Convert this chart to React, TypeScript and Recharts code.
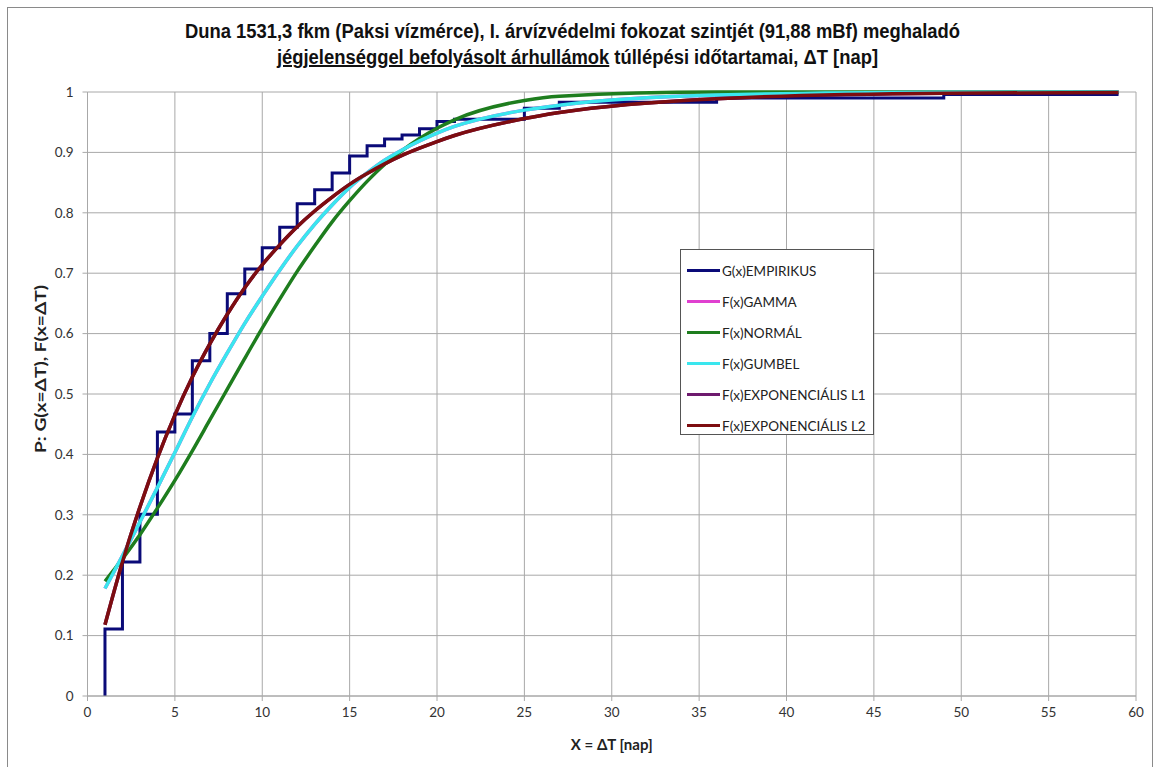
import { LineChart, Line, XAxis, YAxis, CartesianGrid } from 'recharts'

// x positions where the fitted curves were evaluated
const curveX = [1, 2, 3, 4, 5, 6, 7, 8, 9, 10, 11, 12, 13, 14, 15, 16, 17, 18, 19, 20, 21, 25, 27, 36, 49, 59]

const normalY = [0.19, 0.227, 0.267, 0.311, 0.357, 0.406, 0.457, 0.508, 0.559, 0.609, 0.657, 0.703, 0.745, 0.785, 0.82, 0.852, 0.88, 0.903, 0.923, 0.94, 0.954, 0.986, 0.993, 0.9998, 1, 1]
const gumbelY = [0.178, 0.232, 0.288, 0.345, 0.403, 0.462, 0.517, 0.568, 0.617, 0.662, 0.705, 0.745, 0.781, 0.813, 0.842, 0.866, 0.887, 0.904, 0.919, 0.932, 0.943, 0.97, 0.978, 0.995, 0.9995, 1]
const gammaY = [0.178, 0.232, 0.288, 0.345, 0.403, 0.462, 0.517, 0.568, 0.617, 0.662, 0.705, 0.745, 0.781, 0.813, 0.842, 0.866, 0.887, 0.904, 0.919, 0.932, 0.943, 0.97, 0.978, 0.995, 0.9995, 1]
const expL1Y = [0.118, 0.222, 0.313, 0.394, 0.465, 0.528, 0.583, 0.632, 0.676, 0.714, 0.747, 0.777, 0.803, 0.826, 0.847, 0.865, 0.881, 0.895, 0.907, 0.918, 0.928, 0.956, 0.966, 0.989, 0.998, 0.9993]
const expL2Y = [0.118, 0.222, 0.313, 0.394, 0.465, 0.528, 0.583, 0.632, 0.676, 0.714, 0.747, 0.777, 0.803, 0.826, 0.847, 0.865, 0.881, 0.895, 0.907, 0.918, 0.928, 0.956, 0.966, 0.989, 0.998, 0.9993]

// empirical step function
const stepX = [1, 1, 2, 3, 4, 5, 6, 7, 8, 9, 10, 11, 12, 13, 14, 15, 16, 17, 18, 19, 20, 21, 25, 27, 36, 49, 59]
const stepY = [0, 0.111, 0.222, 0.301, 0.437, 0.467, 0.555, 0.6, 0.666, 0.707, 0.742, 0.776, 0.815, 0.838, 0.866, 0.894, 0.911, 0.922, 0.929, 0.939, 0.951, 0.955, 0.973, 0.983, 0.99, 0.996, 0.996]

const xTicks = [0, 5, 10, 15, 20, 25, 30, 35, 40, 45, 50, 55, 60]
const yTicks = [0, 0.1, 0.2, 0.3, 0.4, 0.5, 0.6, 0.7, 0.8, 0.9, 1]

const legendNames = ['G(x)EMPIRIKUS', 'F(x)GAMMA', 'F(x)NORMÁL', 'F(x)GUMBEL', 'F(x)EXPONENCIÁLIS L1', 'F(x)EXPONENCIÁLIS L2']
const legendColors = ['#0a0a78', '#e040d0', '#1e7d1e', '#3ae6ee', '#6e1a6e', '#7d0d10']

const toPoints = (xs: number[], ys: number[]) => xs.map((x, i) => ({ x, y: ys[i] }))

const FONT = 'Lato, "Open Sans", sans-serif'
const GRID = '#a8a8a8'

function LegendBox() {
  return (
    <div style={{ position: 'absolute', left: 680, top: 249, border: '1px solid #555', background: '#fff', width: 194, height: 186, boxSizing: 'border-box', paddingTop: 5 }}>
      {legendNames.map((name, i) => (
        <div key={name} style={{ display: 'flex', alignItems: 'center', height: 31, fontFamily: FONT, fontSize: 13.5, color: '#222' }}>
          <div style={{ width: 33, height: 3.5, background: legendColors[i], marginLeft: 6, marginRight: 2 }} />
          <span>{name}</span>
        </div>
      ))}
    </div>
  )
}

const titleLine = {
  transform: 'scaleX(0.92)', transformOrigin: '50% 50%', whiteSpace: 'nowrap' as const
}

export default function App() {
  const series = [
    { key: 'gamma', color: legendColors[1], data: toPoints(curveX, gammaY), type: 'monotone' },
    { key: 'l1', color: legendColors[4], data: toPoints(curveX, expL1Y), type: 'monotone' },
    { key: 'emp', color: legendColors[0], data: toPoints(stepX, stepY), type: 'stepAfter' },
    { key: 'normal', color: legendColors[2], data: toPoints(curveX, normalY), type: 'monotone' },
    { key: 'gumbel', color: legendColors[3], data: toPoints(curveX, gumbelY), type: 'monotone' },
    { key: 'l2', color: legendColors[5], data: toPoints(curveX, expL2Y), type: 'monotone' },
  ]

  return (
    <div style={{ position: 'absolute', left: 0, top: 0, width: 1155, height: 767, background: '#fff', overflow: 'hidden' }}>
      <div style={{ position: 'absolute', left: 7, top: 7, width: 1146, height: 780, border: '1px solid #8a8a8a', boxSizing: 'border-box' }} />
      <div style={{
        position: 'absolute', left: 0, top: 18, width: 1155, textAlign: 'center',
        fontFamily: '"Liberation Sans", Arial, sans-serif',
        fontWeight: 'bold', fontSize: 20, lineHeight: '26px', color: '#111'
      }}>
        <div style={{ ...titleLine, marginLeft: -10 }}>Duna 1531,3 fkm (Paksi vízmérce), I. árvízvédelmi fokozat szintjét (91,88 mBf) meghaladó</div>
        <div style={titleLine}><span style={{ textDecoration: 'underline' }}>jégjelenséggel befolyásolt árhullámok</span> túllépési időtartamai, ΔT [nap]</div>
      </div>
      <LineChart width={1155} height={767} margin={{ top: 92, right: 19, bottom: 0, left: 0 }} style={{ position: 'absolute', left: 0, top: 0 }}>
        <CartesianGrid stroke={GRID} strokeWidth={1} />
        <XAxis
          type="number"
          dataKey="x"
          domain={[0, 60]}
          ticks={xTicks}
          allowDataOverflow
          height={71}
          stroke={GRID}
          tickSize={5}
          tick={{ fontSize: 13.5, fontFamily: FONT, fill: '#333' }}
          tickMargin={6}
          label={({ viewBox }: any) => (
            <text x={viewBox.x + viewBox.width / 2} y={750} textAnchor="middle" fontFamily={FONT} fontSize={15} fontWeight="bold" fill="#222">
              X = ΔT [nap]
            </text>
          )}
        />
        <YAxis
          type="number"
          dataKey="y"
          domain={[0, 1]}
          ticks={yTicks}
          width={87.5}
          stroke={GRID}
          tickSize={5}
          tick={{ fontSize: 13.5, fontFamily: FONT, fill: '#333' }}
          tickMargin={9}
          label={() => (
            <text x={40} y={369} transform="rotate(-90 40 369)" textAnchor="middle" dominantBaseline="central" fontFamily={FONT} fontSize={14.5} fontWeight="bold" fill="#222" textLength={168} lengthAdjust="spacingAndGlyphs">
              P: G(x=ΔT), F(x=ΔT)
            </text>
          )}
        />
        {series.map(s => (
          <Line
            key={s.key}
            data={s.data}
            dataKey="y"
            type={s.type as any}
            stroke={s.color}
            strokeWidth={s.key === 'emp' ? 3 : 3.5}
            dot={false}
            activeDot={false}
            isAnimationActive={false}
          />
        ))}
      </LineChart>
      <LegendBox />
    </div>
  )
}
